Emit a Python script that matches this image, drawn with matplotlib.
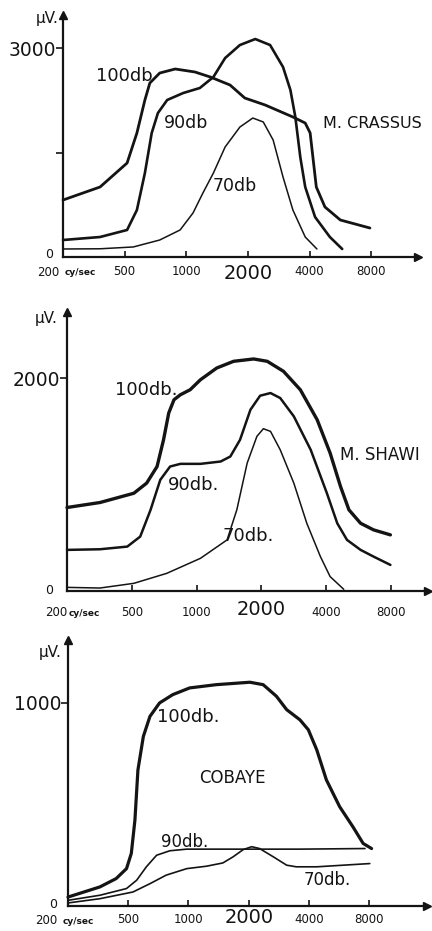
import numpy as np
import matplotlib
matplotlib.use('Agg')
import matplotlib.pyplot as plt
from matplotlib.ticker import NullLocator
from matplotlib.transforms import ScaledTranslation

plt.rcParams['font.family'] = ['DejaVu Sans']

FREQ_TICKS = [200, 500, 1000, 2000, 4000, 8000]
FREQ_LABELS = ['', '500', '1000', '2000', '4000', '8000']

# ---- M. CRASSUS ----
crassus_f100 = [200, 347, 514, 574, 628, 664, 742, 883, 1102, 1310, 1636, 1932, 2428, 3317, 3811, 4028, 4170, 4317, 4757, 5657, 7890]
crassus_v100 = [818, 1005, 1349, 1780, 2254, 2498, 2641, 2699, 2656, 2584, 2469, 2282, 2182, 2010, 1923, 1780, 1392, 1005, 718, 531, 416]
crassus_f90 = [200, 347, 514, 574, 628, 678, 727, 807, 966, 1165, 1357, 1548, 1828, 2173, 2567, 2969, 3226, 3410, 3605, 3811, 4257, 5028, 5776]
crassus_v90 = [244, 287, 388, 675, 1206, 1780, 2067, 2254, 2354, 2426, 2584, 2856, 3043, 3129, 3043, 2727, 2397, 2010, 1435, 1005, 574, 287, 115]
crassus_f70 = [200, 347, 551, 742, 933, 1079, 1206, 1357, 1548, 1828, 2114, 2378, 2657, 2969, 3317, 3811, 4347]
crassus_v70 = [115, 118, 144, 244, 388, 632, 919, 1206, 1579, 1866, 1995, 1938, 1679, 1148, 675, 287, 115]

# ---- M. SHAWI ----
shawi_f100 = [200, 319, 511, 586, 655, 702, 742, 785, 841, 933, 1042, 1240, 1485, 1840, 2128, 2532, 3031, 3630, 4170, 4660, 5099, 5776, 6635, 7945]
shawi_v100 = [784, 831, 918, 1013, 1169, 1420, 1671, 1796, 1843, 1890, 1984, 2094, 2157, 2179, 2157, 2063, 1890, 1608, 1295, 981, 762, 636, 574, 527]
shawi_f90 = [200, 319, 469, 547, 611, 678, 753, 841, 1042, 1293, 1434, 1591, 1778, 1972, 2204, 2445, 2828, 3387, 4028, 4500, 4993, 5776, 6635, 7945]
shawi_v90 = [386, 392, 417, 511, 762, 1044, 1169, 1194, 1194, 1216, 1263, 1420, 1702, 1834, 1859, 1812, 1640, 1326, 918, 636, 480, 386, 323, 245]
shawi_f70 = [200, 319, 511, 727, 1042, 1385, 1537, 1717, 1905, 2042, 2204, 2445, 2828, 3249, 3758, 4170, 4823]
shawi_v70 = [34, 28, 72, 166, 307, 480, 762, 1201, 1452, 1524, 1499, 1326, 1013, 636, 323, 135, 16]

# ---- COBAYE ----
cobaye_f100 = [200, 325, 416, 487, 518, 540, 559, 595, 642, 717, 835, 1014, 1376, 2028, 2362, 2751, 3095, 3605, 3972, 4377, 4890, 5696, 6635, 7464, 8225]
cobaye_v100 = [44, 94, 135, 184, 259, 423, 670, 835, 934, 1000, 1041, 1074, 1090, 1102, 1090, 1033, 967, 917, 868, 769, 621, 489, 390, 308, 283]
cobaye_f90 = [200, 325, 487, 551, 616, 693, 807, 980, 1670, 3605, 7622]
cobaye_v90 = [28, 53, 86, 127, 193, 250, 272, 280, 280, 280, 283]
cobaye_f70 = [200, 325, 528, 642, 774, 980, 1231, 1485, 1670, 1879, 2071, 2266, 2657, 3095, 3458, 4377, 8056]
cobaye_v70 = [15, 36, 69, 110, 152, 184, 196, 212, 242, 278, 292, 283, 242, 201, 193, 193, 209]

# ---- scale: hand-drawn axis with evenly spaced labelled frequencies ----
_ext_f = np.log([80] + FREQ_TICKS + [16000, 32000])
_ext_p = np.arange(-1, 8)


def fwd(f):
    f = np.asarray(f, dtype=float)
    return np.interp(np.log(np.clip(f, 1.0, None)), _ext_f, _ext_p)


def inv(p):
    return np.exp(np.interp(np.asarray(p, dtype=float), _ext_p, _ext_f))


W, H = 432, 931
fig = plt.figure(figsize=(W / 100, H / 100), dpi=100)
fig.patch.set_facecolor('white')
INK = '#141414'


def T(x, y, s, size, ha='center', va='center', **kw):
    fig.text(x / W, 1 - y / H, s, fontsize=size, ha=ha, va=va, color=INK, **kw)


def panel(x0, y0, x1, y1, xend_pos, ymax, yticks, ylabels, curves, xpad, big_shift):
    ax = fig.add_axes([x0 / W, 1 - y0 / H, (x1 - x0) / W, (y0 - y1) / H])
    ax.set_xscale('function', functions=(fwd, inv))
    ax.set_xlim(200, float(inv(xend_pos)))
    ax.set_ylim(0, ymax)
    for f, v, lw in curves:
        ax.plot(f, v, color=INK, lw=lw, solid_capstyle='round', solid_joinstyle='round', clip_on=False)
    for s in ('top', 'right'):
        ax.spines[s].set_visible(False)
    for s in ('left', 'bottom'):
        ax.spines[s].set_linewidth(1.6)
        ax.spines[s].set_color(INK)
    ax.set_xticks(FREQ_TICKS, FREQ_LABELS)
    ax.xaxis.set_minor_locator(NullLocator())
    ax.yaxis.set_minor_locator(NullLocator())
    ax.tick_params(axis='x', direction='in', length=4, width=1.2, colors=INK, labelsize=8.5, pad=xpad)
    ax.set_yticks(yticks, ylabels)
    ax.tick_params(axis='y', direction='out', length=5, width=1.2, colors=INK, labelsize=13.5, pad=0)
    for tick in ax.xaxis.get_major_ticks():
        lab = tick.label1
        if lab.get_text() == '2000':
            lab.set_fontsize(14)
            lab.set_transform(lab.get_transform() + ScaledTranslation(0, big_shift / 100, fig.dpi_scale_trans))
    ax.plot(1, 0, marker='>', color=INK, ms=6, transform=ax.transAxes, clip_on=False)
    ax.plot(0, 1, marker='^', color=INK, ms=6, transform=ax.transAxes, clip_on=False)
    ax.patch.set_alpha(0)
    return ax


# Top panel
panel(63, 257, 418, 15, 5.76, 3474, [1500, 3000], ['', '3000'],
      [(crassus_f100, crassus_v100, 2.0), (crassus_f90, crassus_v90, 1.9), (crassus_f70, crassus_v70, 1.1)], 6, 1)
T(47, 19, 'µV.', 11)
T(49, 254, '0', 9)
T(48, 272, '200', 8.5)
T(80, 273, 'cy/sec', 6.5, weight='bold')
T(124, 76, '100db', 13)
T(186, 123, '90db', 12.5)
T(235, 186, '70db', 12.5)
T(372, 124, 'M. CRASSUS', 11.5)

# Middle panel
panel(67, 591, 428, 312, 5.57, 2620, [2000], ['2000'],
      [(shawi_f100, shawi_v100, 2.4), (shawi_f90, shawi_v90, 1.8), (shawi_f70, shawi_v70, 1.1)], 11, 6)
T(46, 318, 'µV.', 11)
T(49, 590, '0', 9)
T(56, 612, '200', 8.5)
T(84, 613, 'cy/sec', 6.5, weight='bold')
T(146, 390, '100db.', 13)
T(194, 485, '90db.', 13)
T(248, 536, '70db.', 13)
T(380, 455, 'M. SHAWI', 12)

# Bottom panel
panel(68, 906, 427, 640, 5.96, 1310, [1000], ['1000'],
      [(cobaye_f100, cobaye_v100, 2.3), (cobaye_f90, cobaye_v90, 1.2), (cobaye_f70, cobaye_v70, 1.2)], 5, 5)
T(50, 653, 'µV.', 11)
T(53, 904, '0', 9)
T(46, 921, '200', 8.5)
T(78, 922, 'cy/sec', 6.5, weight='bold')
T(188, 717, '100db.', 13)
T(232, 778, 'COBAYE', 12)
T(185, 842, '90db.', 12)
T(327, 880, '70db.', 12)

fig.savefig('out.png', dpi=100, facecolor='white')
